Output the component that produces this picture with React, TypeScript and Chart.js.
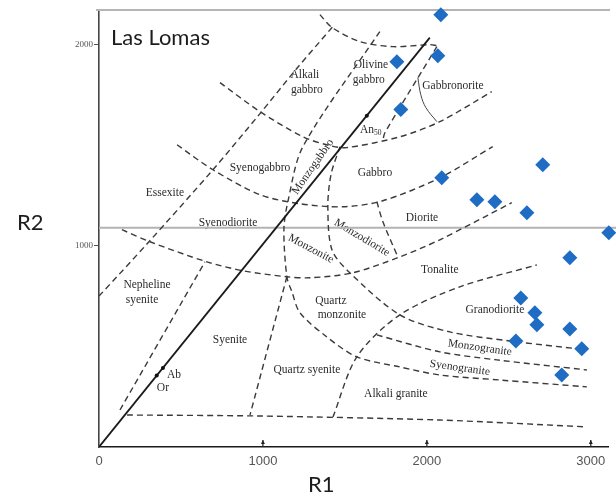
import React, { useEffect, useRef } from 'react';
import { Chart, registerables } from 'chart.js';

Chart.register(...registerables);

// ---- sample data (R1, R2) ----
const sampleR1 = [2085, 1817, 2067, 1841, 2091, 2707, 2305, 2415, 2610, 3110, 2872, 2573, 2659, 2671, 2872, 2543, 2945, 2823];
const sampleR2 = [2149, 1915, 1945, 1677, 1338, 1403, 1229, 1219, 1164, 1065, 940, 741, 667, 607, 587, 527, 488, 358];

// ---- axes ----
const xTicks = [0, 1000, 2000, 3000];
const yTicks = [1000, 2000];
const R1_MAX = 3105;
const R2_MAX = 2172;
const refLineR2 = 1090;
const refLineR1 = [0, 3200];

// ---- diagram boundaries (R1, R2) ----
const solidLine = [[0, 0], [2018, 2035]];
const bottomLine = [[171, 159], [982, 154], [2079, 134], [2976, 100]];
const nephelineRight = [[128, 184], [646, 920]];
const alkaliLine = [[0, 750], [299, 1015], [695, 1378], [982, 1657], [1201, 1876], [1427, 2090]];
const monzoniteLeft = [[1713, 2065], [1244, 1493], [1152, 1219], [1128, 1080], [1146, 846], [1177, 771], [1226, 667], [1390, 547], [1573, 448], [1835, 398], [2079, 358], [2445, 333], [2976, 299]];
const syeniteRight = [[1146, 846], [921, 159]];
const syeniteTop = [[140, 1080], [311, 1020], [659, 920], [878, 876], [1146, 846], [1287, 841], [1549, 866], [1835, 945], [2079, 1030], [2518, 1214]];
const gabbroBottom = [[476, 1502], [695, 1378], [982, 1254], [1226, 1209], [1488, 1194], [1732, 1224], [2079, 1338], [2402, 1493]];
const gabbroTop = [[738, 1811], [982, 1667], [1244, 1542], [1409, 1498], [1512, 1488], [1835, 1542], [2079, 1617], [2396, 1766]];
const topArc = [[1348, 2149], [1421, 2085], [1591, 2015], [1793, 1990], [2018, 2000], [2061, 1995]];
const olivineRight = [[2061, 1990], [1744, 1562], [1732, 1527]];
const gabbronoriteArc = [[1945, 1836], [1963, 1751], [1994, 1687], [2061, 1617]];
const monzodioriteCurve = [[1470, 1493], [1415, 1353], [1396, 1194], [1421, 980], [1530, 866], [1835, 657], [2140, 572], [2506, 527], [2976, 483]];
const dioriteLeft = [[1695, 1219], [1732, 1119], [1823, 945]];
const tonaliteBottom = [[1427, 149], [1573, 448], [1835, 657], [2201, 796], [2671, 905]];
const monzograniteBottom = [[1695, 557], [2079, 473], [2427, 433], [2976, 383]];

// ---- reference points on the solid line ----
const refPointsR1 = [352, 390, 1634];
const refPointsR2 = [355, 393, 1647];

// ---- field names: text, R1, R2, rotation (deg) ----
const fieldLabels: [string, number, number, number][] = [
  ['Alkali', 1256, 1851, 0],
  ['gabbro', 1268, 1776, 0],
  ['Olivine', 1659, 1900, 0],
  ['gabbro', 1646, 1826, 0],
  ['Gabbronorite', 2159, 1796, 0],
  ['Gabbro', 1683, 1363, 0],
  ['Diorite', 1970, 1139, 0],
  ['Syenogabbro', 982, 1388, 0],
  ['Essexite', 402, 1264, 0],
  ['Syenodiorite', 787, 1114, 0],
  ['Monzogabbro', 1305, 1393, -55],
  ['Monzonite', 1293, 985, 28],
  ['Monzodiorite', 1604, 1040, 31],
  ['Tonalite', 2079, 881, 0],
  ['Quartz', 1415, 726, 0],
  ['monzonite', 1482, 657, 0],
  ['Granodiorite', 2415, 682, 0],
  ['Monzogranite', 2323, 493, 8],
  ['Syenogranite', 2201, 393, 8],
  ['Alkali granite', 1811, 264, 0],
  ['Quartz syenite', 1268, 383, 0],
  ['Syenite', 799, 532, 0],
  ['Nepheline', 293, 806, 0],
  ['syenite', 262, 731, 0],
  ['Ab', 457, 358, 0],
  ['Or', 390, 294, 0],
];
const anLabel: [string, string, number, number] = ['An', '50', 1665, 1577];

const toPts = (arr: number[][]) => arr.map(([x, y]) => ({ x, y }));

const dashed = (arr: number[][]) => ({
  data: toPts(arr),
  showLine: true,
  pointRadius: 0,
  borderColor: '#3a3a3a',
  borderWidth: 1.4,
  borderDash: [6, 4],
  tension: 0.3,
  fill: false,
});

const overlay = {
  id: 'overlay',
  beforeDatasetsDraw(chart: any) {
    const { ctx, chartArea, scales } = chart;
    const xs = scales.x;
    const ys = scales.y;
    ctx.save();
    // top frame line
    ctx.strokeStyle = '#b5b5b5';
    ctx.lineWidth = 2;
    ctx.beginPath();
    ctx.moveTo(chartArea.left - 3, chartArea.top);
    ctx.lineTo(610, chartArea.top);
    ctx.stroke();

    // field labels
    ctx.fillStyle = '#2b2b2b';
    ctx.textAlign = 'center';
    ctx.textBaseline = 'middle';
    ctx.font = '11.5px "Liberation Serif"';
    for (const [t, vx, vy, rot] of fieldLabels) {
      const px = xs.getPixelForValue(vx);
      const py = ys.getPixelForValue(vy);
      ctx.save();
      ctx.translate(px, py);
      if (rot) ctx.rotate((rot * Math.PI) / 180);
      ctx.fillText(t, 0, 0);
      ctx.restore();
    }
    // An50
    const ax = xs.getPixelForValue(anLabel[2]);
    const ay = ys.getPixelForValue(anLabel[3]);
    ctx.textAlign = 'right';
    ctx.fillText(anLabel[0], ax + 2, ay);
    ctx.textAlign = 'left';
    ctx.font = '7.5px "Liberation Serif"';
    ctx.fillText(anLabel[1], ax + 2, ay + 3);
    ctx.restore();
  },
  afterDraw(chart: any) {
    const { ctx, scales } = chart;
    const xs = scales.x;
    const ys = scales.y;
    ctx.save();
    // upward tick marks on x axis
    ctx.strokeStyle = '#222';
    ctx.fillStyle = '#222';
    ctx.lineWidth = 1.2;
    const base = ys.getPixelForValue(0);
    for (const v of xTicks) {
      if (v === 0) continue;
      const px = xs.getPixelForValue(v);
      ctx.beginPath();
      ctx.moveTo(px, base);
      ctx.lineTo(px, base - 7);
      ctx.stroke();
      ctx.beginPath();
      ctx.moveTo(px - 2, base - 3);
      ctx.lineTo(px + 2, base - 3);
      ctx.lineTo(px, base - 7);
      ctx.closePath();
      ctx.fill();
    }
    // titles
    ctx.fillStyle = '#1c1c1c';
    ctx.textAlign = 'left';
    ctx.textBaseline = 'alphabetic';
    ctx.font = '22px Lato';
    ctx.fillText('Las Lomas', 111, 45);
    ctx.fillText('R2', 17, 230);
    ctx.fillText('R1', 308, 492);
    ctx.restore();
  },
};

export default function App() {
  const ref = useRef<HTMLCanvasElement | null>(null);
  useEffect(() => {
    if (!ref.current) return;
    const chart = new Chart(ref.current, {
      type: 'scatter',
      data: {
        datasets: [
          {
            data: sampleR1.map((x, i) => ({ x, y: sampleR2[i] })),
            pointStyle: 'rectRot',
            pointRadius: 7.5,
            pointHoverRadius: 7.5,
            backgroundColor: '#1f6cc4',
            borderColor: '#1f6cc4',
            borderWidth: 0,
            clip: false,
          } as any,
          {
            data: refPointsR1.map((x, i) => ({ x, y: refPointsR2[i] })),
            pointStyle: 'circle',
            pointRadius: 2,
            backgroundColor: '#111',
            borderWidth: 0,
          },
          {
            data: toPts(solidLine),
            showLine: true,
            pointRadius: 0,
            borderColor: '#1a1a1a',
            borderWidth: 1.8,
          },
          {
            data: toPts(gabbronoriteArc),
            showLine: true,
            pointRadius: 0,
            borderColor: '#444',
            borderWidth: 1,
            tension: 0.4,
          },
          dashed(bottomLine),
          dashed(nephelineRight),
          dashed(alkaliLine),
          dashed(monzoniteLeft),
          dashed(syeniteRight),
          dashed(syeniteTop),
          dashed(gabbroBottom),
          dashed(gabbroTop),
          dashed(topArc),
          dashed(olivineRight),
          dashed(monzodioriteCurve),
          dashed(dioriteLeft),
          dashed(tonaliteBottom),
          dashed(monzograniteBottom),
          {
            data: refLineR1.map((x) => ({ x, y: refLineR2 })),
            showLine: true,
            pointRadius: 0,
            borderColor: '#b3b3b3',
            borderWidth: 2,
            clip: false,
          } as any,
        ],
      },
      options: {
        animation: false,
        responsive: false,
        devicePixelRatio: 1,
        layout: { padding: { top: 10, right: 8, left: 0, bottom: 0 } },
        plugins: { legend: { display: false }, tooltip: { enabled: false } },
        events: [],
        scales: {
          x: {
            type: 'linear',
            min: 0,
            max: R1_MAX,
            afterBuildTicks: (s: any) => {
              s.ticks = xTicks.map((v) => ({ value: v }));
            },
            afterFit: (s: any) => {
              s.height = 54;
            },
            grid: { display: true, drawOnChartArea: false, drawTicks: false },
            border: { display: true, color: '#1a1a1a', width: 1.6 },
            ticks: {
              padding: 7,
              color: '#555',
              font: { family: 'Liberation Sans', size: 13 },
              maxRotation: 0,
              autoSkip: false,
              callback: (v: any) => String(v),
            },
          },
          y: {
            type: 'linear',
            min: 0,
            max: R2_MAX,
            afterBuildTicks: (s: any) => {
              s.ticks = yTicks.map((v) => ({ value: v }));
            },
            afterFit: (s: any) => {
              s.width = 99;
            },
            grid: { display: true, drawOnChartArea: false, drawTicks: true, tickLength: 5, color: '#555' },
            border: { display: true, color: '#444', width: 1.6 },
            ticks: {
              padding: 1,
              color: '#555',
              font: { family: 'Liberation Serif', size: 9 },
              autoSkip: false,
              callback: (v: any) => String(v),
            },
          },
        },
      },
      plugins: [overlay],
    } as any);
    return () => chart.destroy();
  }, []);
  return (
    <canvas
      ref={ref}
      width={616}
      height={501}
      style={{ position: 'absolute', left: 0, top: 0, display: 'block' }}
    />
  );
}
